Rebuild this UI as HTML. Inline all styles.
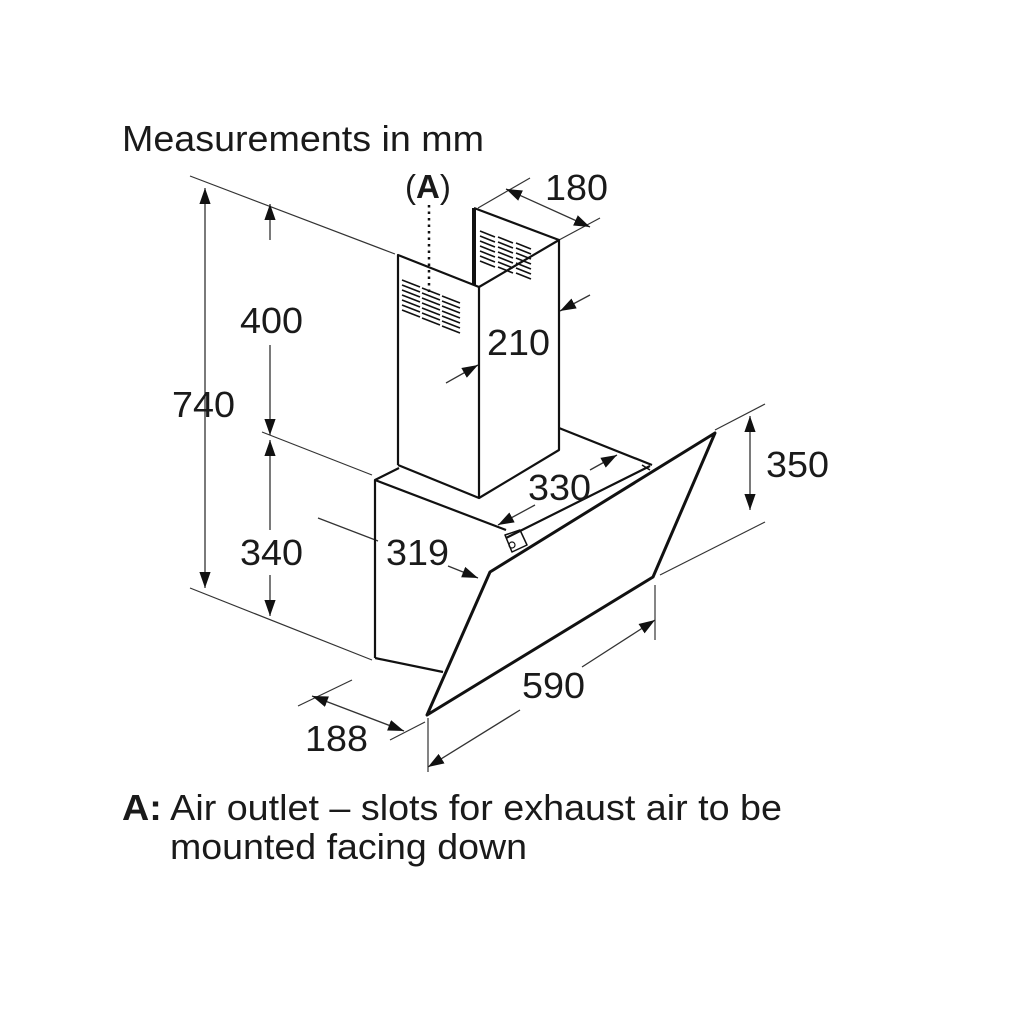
<!DOCTYPE html>
<html><head><meta charset="utf-8"><style>
html,body{margin:0;padding:0;background:#fff}
svg{display:block}
text{font-family:"Liberation Sans",Arial,sans-serif;fill:#1a1a1a}
</style></head><body>
<svg width="1026" height="1026" viewBox="0 0 1026 1026" xmlns="http://www.w3.org/2000/svg">
<defs>
<marker id="a" viewBox="0 0 10 10" refX="10" refY="5" markerWidth="16" markerHeight="16" markerUnits="userSpaceOnUse" orient="auto-start-reverse"><path d="M0,1.5 L10,5 L0,8.5 z" fill="#111"/></marker>
</defs>
<text x="122" y="151" font-size="36" textLength="362" lengthAdjust="spacingAndGlyphs">Measurements in mm</text>
<text x="405" y="198" font-size="33">(<tspan font-weight="bold">A</tspan>)</text>

<g stroke="#333" stroke-width="1.2" fill="none">
<line x1="190" y1="176" x2="395" y2="254"/>
<line x1="190" y1="588" x2="372" y2="660"/>
<line x1="262" y1="432" x2="372" y2="475"/>
<line x1="715" y1="430" x2="765" y2="404"/>
<line x1="660" y1="575" x2="765" y2="522"/>
<line x1="428" y1="718" x2="428" y2="772"/>
<line x1="655" y1="585" x2="655" y2="640"/>
<line x1="298" y1="706" x2="352" y2="680"/>
<line x1="390" y1="740" x2="425" y2="722"/>
<line x1="478" y1="208" x2="530" y2="178"/>
<line x1="559" y1="240" x2="600" y2="218"/>
</g>
<g stroke="#333" stroke-width="1.3" fill="none">
<line x1="205" y1="188" x2="205" y2="588" marker-start="url(#a)" marker-end="url(#a)"/>
<line x1="270" y1="204" x2="270" y2="240" marker-start="url(#a)"/>
<line x1="270" y1="345" x2="270" y2="435" marker-end="url(#a)"/>
<line x1="270" y1="440" x2="270" y2="530" marker-start="url(#a)"/>
<line x1="270" y1="575" x2="270" y2="616" marker-end="url(#a)"/>
<line x1="750" y1="416" x2="750" y2="510" marker-start="url(#a)" marker-end="url(#a)"/>
<line x1="506" y1="189" x2="590" y2="227" marker-start="url(#a)" marker-end="url(#a)"/>
<line x1="312" y1="696" x2="404" y2="731" marker-start="url(#a)" marker-end="url(#a)"/>
<line x1="428" y1="767" x2="520" y2="710" marker-start="url(#a)"/>
<line x1="582" y1="667" x2="655" y2="620" marker-end="url(#a)"/>
<line x1="318" y1="518" x2="378" y2="541"/>
<line x1="448" y1="566" x2="478" y2="578" marker-end="url(#a)"/>
<line x1="498" y1="525" x2="535" y2="505" marker-start="url(#a)"/>
<line x1="590" y1="470" x2="617" y2="455" marker-end="url(#a)"/>
<line x1="446" y1="383" x2="478" y2="365" marker-end="url(#a)"/>
<line x1="590" y1="295" x2="560" y2="311" marker-end="url(#a)"/>
</g>
<g stroke="#111" stroke-width="2.2" fill="none" stroke-linejoin="round">
<polyline points="375,658 375,480 399,468"/>
<line x1="375" y1="480" x2="506" y2="530"/>
<line x1="375" y1="658" x2="443" y2="672"/>
<line x1="559" y1="428" x2="652" y2="465"/>
<line x1="506" y1="538" x2="650" y2="466"/>
<polygon points="490,572 715,433 653,577 427,715" stroke-width="3"/>
<path d="M505,535 L520,530 L527,545 L512,552 z" stroke-width="1.5"/>
<circle cx="512" cy="545" r="3" stroke-width="1.2"/>
<line x1="642" y1="465" x2="650" y2="470" stroke-width="1.5"/>
<polyline points="398,465 398,255 479,287 559,240 559,450 479,498 398,465"/>
<line x1="479" y1="287" x2="479" y2="498"/>
<line x1="474" y1="208" x2="474" y2="285" stroke-width="4"/>
<line x1="474" y1="208" x2="559" y2="240"/>
</g>
<g stroke="#111" stroke-width="1.6">
<g id="v1">
<line x1="402" y1="280" x2="420" y2="287"/><line x1="402" y1="285" x2="420" y2="292"/><line x1="402" y1="290" x2="420" y2="297"/><line x1="402" y1="295" x2="420" y2="302"/><line x1="402" y1="300" x2="420" y2="307"/><line x1="402" y1="305" x2="420" y2="312"/><line x1="402" y1="310" x2="420" y2="317"/>
</g>
<use href="#v1" transform="translate(20,8)"/>
<use href="#v1" transform="translate(40,16)"/>
<g id="v2">
<line x1="480" y1="231" x2="495" y2="237"/><line x1="480" y1="236" x2="495" y2="242"/><line x1="480" y1="241" x2="495" y2="247"/><line x1="480" y1="246" x2="495" y2="252"/><line x1="480" y1="251" x2="495" y2="257"/><line x1="480" y1="256" x2="495" y2="262"/><line x1="480" y1="261" x2="495" y2="267"/>
</g>
<use href="#v2" transform="translate(18,6)"/>
<use href="#v2" transform="translate(36,12)"/>
</g>
<line x1="429" y1="205" x2="429" y2="296" stroke="#111" stroke-width="2.5" stroke-dasharray="2.5,4"/>

<g font-size="36">
<text x="172" y="417" textLength="63" lengthAdjust="spacingAndGlyphs">740</text>
<text x="240" y="333" textLength="63" lengthAdjust="spacingAndGlyphs">400</text>
<text x="240" y="565" textLength="63" lengthAdjust="spacingAndGlyphs">340</text>
<text x="487" y="355" textLength="63" lengthAdjust="spacingAndGlyphs">210</text>
<text x="545" y="200" textLength="63" lengthAdjust="spacingAndGlyphs">180</text>
<text x="766" y="477" textLength="63" lengthAdjust="spacingAndGlyphs">350</text>
<text x="528" y="500" textLength="63" lengthAdjust="spacingAndGlyphs">330</text>
<text x="386" y="565" textLength="63" lengthAdjust="spacingAndGlyphs">319</text>
<text x="522" y="698" textLength="63" lengthAdjust="spacingAndGlyphs">590</text>
<text x="305" y="751" textLength="63" lengthAdjust="spacingAndGlyphs">188</text>
</g>
<text x="122" y="820" font-size="36" textLength="660" lengthAdjust="spacingAndGlyphs"><tspan font-weight="bold">A:</tspan> Air outlet – slots for exhaust air to be</text>
<text x="170" y="859" font-size="36" textLength="357" lengthAdjust="spacingAndGlyphs">mounted facing down</text>
</svg>
</body></html>
